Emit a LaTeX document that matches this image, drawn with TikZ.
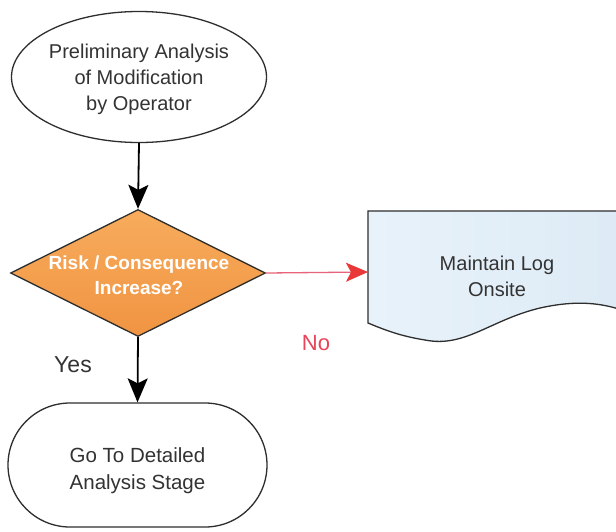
\documentclass[tikz,border=0pt]{standalone}
\usepackage{fontspec}
\setmainfont{Liberation Sans}
\usetikzlibrary{shapes.geometric,arrows.meta}
\definecolor{edge}{HTML}{2E2E2E}
\definecolor{txtc}{HTML}{333333}
\definecolor{orangetop}{HTML}{F7AC5C}
\definecolor{orangebot}{HTML}{F09442}
\definecolor{doctop}{HTML}{E8F2FA}
\definecolor{docbot}{HTML}{DCEAF5}
\definecolor{redline}{HTML}{E8647A}
\definecolor{redtip}{HTML}{E83838}
\definecolor{notxt}{HTML}{E8445A}
\begin{document}
\begin{tikzpicture}[x=1pt,y=-1pt,
  shapeline/.style={draw=edge,line width=1.3pt},
  txt/.style={align=center,text=txtc,font=\fontsize{20}{26}\selectfont,inner sep=0pt},
  flow/.style={draw=black,line width=1.8pt,-{Stealth[length=24pt,width=20pt,inset=5pt]}},
  noflow/.style={draw=redline,line width=1.3pt,-{Stealth[length=22pt,width=19pt,inset=5pt,fill=redtip,color=redtip]}}]
\useasboundingbox (0,0) rectangle (616,531);
\fill[white] (0,0) rectangle (616,531);
% start ellipse
\node[ellipse,shapeline,fill=white,minimum width=255pt,minimum height=131pt,inner sep=0pt] (prel) at (139,77) {};
\node[txt] (prelt) at (139,79) {Preliminary Analysis\\of Modification\\by Operator};
% decision
\node[diamond,shapeline,top color=orangetop,bottom color=orangebot,minimum width=255pt,minimum height=127pt,inner sep=0pt] (dec) at (138,273) {};
\node[txt,text=white,font=\bfseries\fontsize{19}{25}\selectfont] (dect) at (139,275) {Risk / Consequence\\Increase?};
% document
\coordinate (docL) at (368,272);
\path[shapeline,left color=doctop,right color=docbot]
  (368,211) -- (650,211) -- (650,322)
  .. controls (615,304) and (585,298) .. (540,308)
  .. controls (490,320) and (465,348) .. (425,340)
  .. controls (400,336) and (385,330) .. (368,323) -- cycle;
\node[txt] (doct) at (497,276) {Maintain Log\\Onsite};
% terminal
\node[rectangle,rounded corners=62pt,shapeline,fill=white,minimum width=259pt,minimum height=124pt,inner sep=0pt] (go) at (137.5,465) {};
\node[txt,font=\fontsize{20.5}{27}\selectfont] (got) at (137.5,471) {Go To Detailed\\Analysis Stage};
% connectors
\draw[flow] (prel.south) -- (dec.north);
\draw[flow] (dec.south) -- (go.north);
\draw[noflow] (dec.east) -- (docL);
% labels
\node[text=txtc,font=\fontsize{23}{26}\selectfont,inner sep=0pt] (yes) at (73,365) {Yes};
\node[text=notxt,font=\fontsize{22}{26}\selectfont,inner sep=0pt] (no) at (316,343) {No};
\end{tikzpicture}
\end{document}
